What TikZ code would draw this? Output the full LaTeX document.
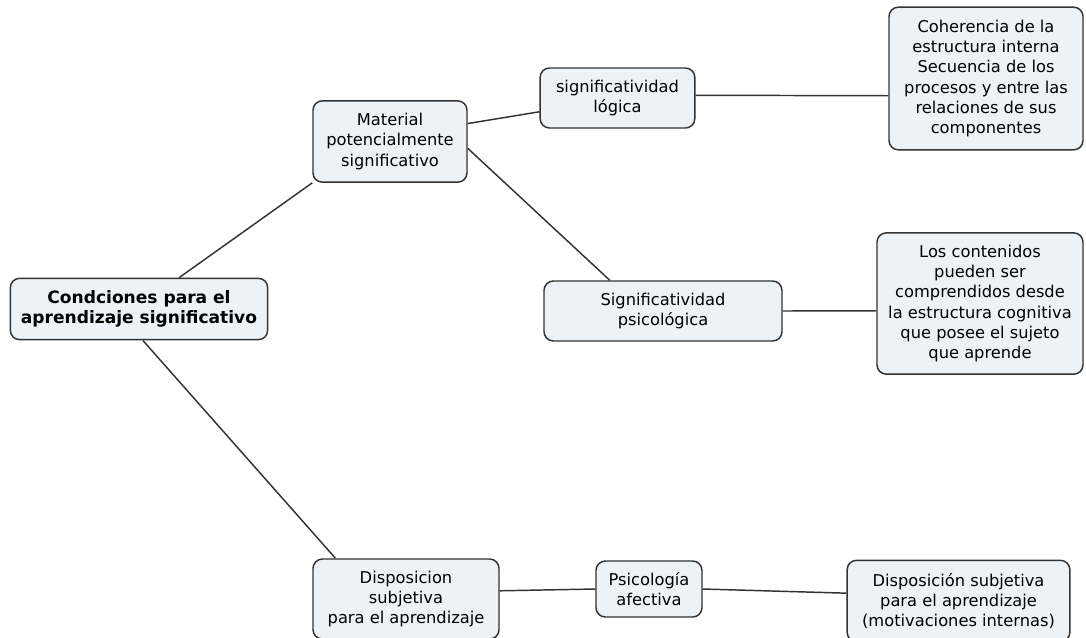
\documentclass[tikz,border=0pt]{standalone}
\usepackage{fontspec}
\setmainfont{DejaVu Sans}
\usetikzlibrary{positioning}
\definecolor{boxfill}{HTML}{ECF2F5}
\definecolor{boxline}{HTML}{333333}
\tikzset{
  concept/.style={draw=boxline, line width=1.1pt, fill=boxfill, rounded corners=7pt,
    align=center, inner sep=2pt, font=\fontsize{12.2}{15.2}\selectfont},
  link/.style={draw=boxline, line width=1.1pt}
}
\begin{document}
\begin{tikzpicture}[x=0.75pt,y=-0.75pt]
\useasboundingbox (0,0) rectangle (1086,637);

\node[concept, minimum width=193pt, minimum height=46pt,
  font=\bfseries\fontsize{12.8}{15.2}\selectfont] (cond) at (139,309) {Condciones para el\\aprendizaje significativo};

\node[concept, minimum width=115.5pt, minimum height=61pt] (mat) at (390,141.5) {Material\\potencialmente\\significativo};
\node[concept, minimum width=116pt, minimum height=45pt] (logica) at (617.5,98) {significatividad\\lógica};
\node[concept, minimum width=145.5pt, minimum height=107pt] (coher) at (986,78.5) {Coherencia de la\\estructura interna\\Secuencia de los\\procesos y entre las\\relaciones de sus\\componentes};

\node[concept, minimum width=178.5pt, minimum height=45pt] (psico) at (663,311) {Significatividad\\psicológica};
\node[concept, minimum width=154.5pt, minimum height=106pt] (cont) at (980,303.5) {Los contenidos\\pueden ser\\comprendidos desde\\la estructura cognitiva\\que posee el sujeto\\que aprende};

\node[concept, minimum width=139.5pt, minimum height=60pt] (disp) at (406,599) {Disposicion\\subjetiva\\para el aprendizaje};
\node[concept, minimum width=79.5pt, minimum height=42pt] (afect) at (649,589) {Psicología\\afectiva};
\node[concept, minimum width=167pt, minimum height=61pt] (dsub) at (958.5,601) {Disposición subjetiva\\para el aprendizaje\\(motivaciones internas)};

% connectors
\draw[link] (cond.38) -- (mat.208);
\draw[link] (cond.277) -- (disp.150);
\draw[link] (mat.13) -- (logica.190);
\draw[link] (mat.355) -- (psico.150);
\draw[link] (logica.2) -- (coher.190);
\draw[link] (psico.east) -- (cont.184);
\draw[link] (disp.5) -- (afect.west);
\draw[link] (afect.east) -- (dsub.176);

\end{tikzpicture}
\end{document}
